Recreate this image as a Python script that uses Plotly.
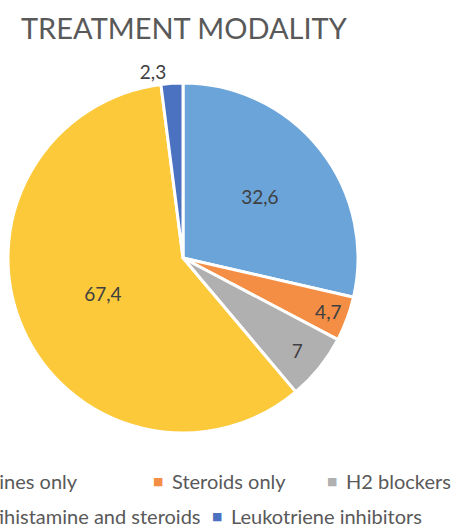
import plotly.graph_objects as go

categories = ["Antihistamines only", "Steroids only", "H2 blockers",
              "Antihistamine and steroids", "Leukotriene inhibitors"]
values = [32.6, 4.7, 7, 67.4, 2.3]
colors = ["#6AA4D8", "#F58E45", "#B0B0B0", "#FCC93A", "#4A72C0"]
label_pos = ["inside", "inside", "inside", "inside", "outside"]

W, H = 453, 524
labels_txt = [(f"{v:g}").replace(".", ",") for v in values]

fig = go.Figure()
fig.add_trace(go.Pie(
    labels=categories, values=values, text=labels_txt, textinfo="text",
    textposition=label_pos, insidetextorientation="horizontal",
    sort=False, direction="clockwise", rotation=0,
    marker=dict(colors=colors, line=dict(color="white", width=3)),
    textfont=dict(family="Lato", size=19, color="#404040"),
    showlegend=False, hoverinfo="label+value",
    domain=dict(x=[8 / W, 358 / W], y=[1 - 433 / H, 1 - 83 / H]),
))

# legend rows built as text annotations (reference crop cuts off the left side)
legend_rows = [
    [(0, 80, "right"), (1, 170, "left"), (2, 344, "left")],
    [(3, 203, "right"), (4, 229, "left")],
]
row_y = [481, 516]
leg_font = dict(family="Lato", size=20, color="#595959")
for r, row in enumerate(legend_rows):
    y = 1 - row_y[r] / H
    for idx, xpx, anchor in row:
        if anchor == "left":
            fig.add_annotation(
                text="■", xref="paper", yref="paper", x=(xpx - 12) / W, y=y,
                xanchor="center", yanchor="middle", showarrow=False,
                font=dict(family="DejaVu Sans", size=11, color=colors[idx]),
            )
            txt = categories[idx]
        else:
            txt = (f"<span style='color:{colors[idx]};font-size:11px'>■</span>"
                   f"  {categories[idx]}")
        fig.add_annotation(
            text=txt, xref="paper", yref="paper", x=xpx / W, y=y,
            xanchor=anchor, yanchor="middle", showarrow=False, font=leg_font,
        )

fig.update_layout(
    width=W, height=H, margin=dict(l=0, r=0, t=0, b=0),
    paper_bgcolor="white", plot_bgcolor="white",
    title=dict(text="TREATMENT MODALITY", x=21 / W, xanchor="left",
               y=1 - 28.5 / H, yanchor="middle", yref="container",
               font=dict(family="Lato", size=29, color="#595959")),
)
fig.write_html("out.html", config={"displayModeBar": False},
               post_script="document.body.style.margin='0';")
